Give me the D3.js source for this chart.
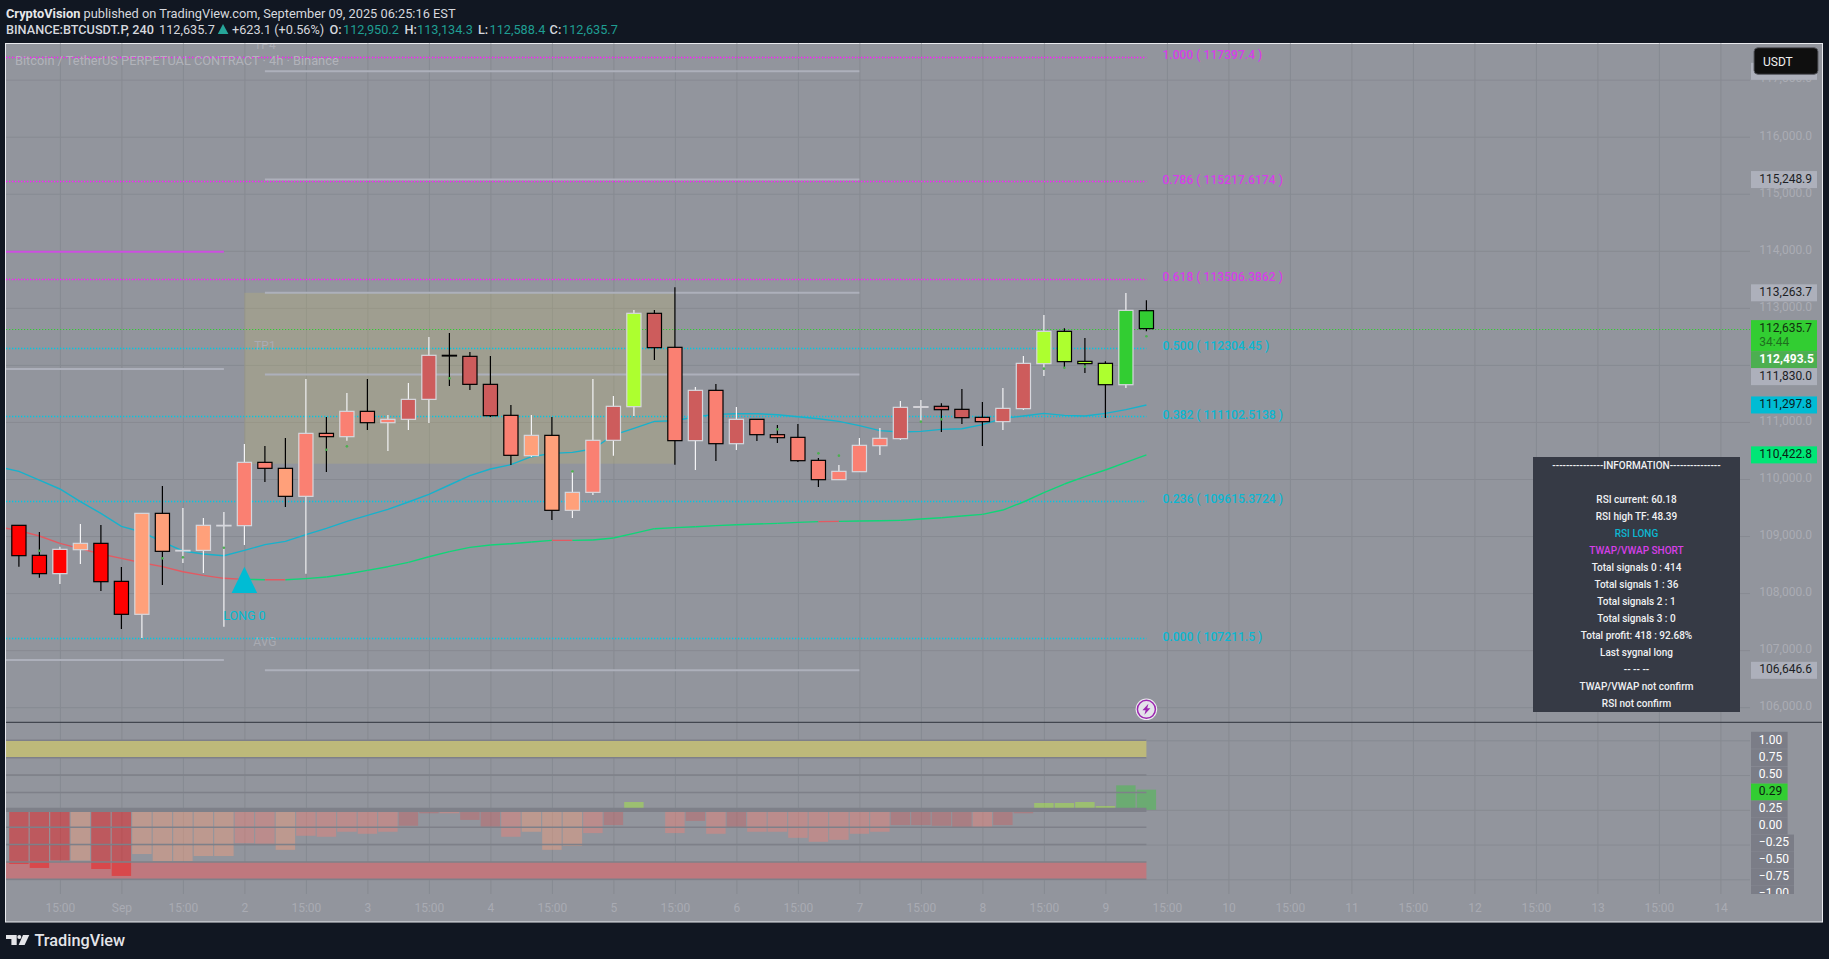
<!DOCTYPE html>
<html>
<head>
<meta charset="utf-8">
<script src="https://cdn.jsdelivr.net/npm/d3@7"></script>
<style>
  html, body { margin: 0; padding: 0; background: #111722; overflow: hidden; }
  svg { display: block; }
  text { font-family: Roboto, sans-serif; }
  .domain { display: none; }
</style>
</head>
<body>
<div id="chart"></div>
<script>
// bars, index 0 = Sep 1 00:00 candle, one bar is 4h
const firstBar = -5
const opens = [109188,108662,108341,108761,108872,108206,107628,109398,108749,108749,109188,109182,110292,110187,109696,110800,110742,111186,110987,111046,111396,112168,112150,111659,111116,110409,110765,109451,109766,110678,111268,112904,112308,110672,111554,110619,111046,110777,110730,110327,109988,110128,110584,110707,111256,111274,111221,111081,111005,111233,112022,112588,112062,112027,111653,112950.2]
const highs = [109188,109071,108814,109211,109194,108457,109398,109877,109492,109316,109422,110613,110578,110719,111753,111087,111507,111753,111122,111683,112489,112559,112226,112156,111297,111122,111087,110158,111753,111455,112962,112962,113360,111612,111665,111262,111046,110946,110964,110368,110245,110719,110894,111367,111385,111326,111577,111349,111595,112156,112875,112641,112471,112062,113260,113134.3]
const lows = [108463,108270,108159,108510,108037,107370,107213,108142,108527,108352,107411,108843,109947,109509,108341,110123,110672,110859,110491,110859,110981,111630,111560,111087,110245,110385,109281,109316,109719,110409,111104,112086,110251,110158,110315,110508,110666,110631,110298,109859,109988,110128,110420,110683,110993,110824,110964,110578,110859,111209,111805,111940,111858,111069,111595,112588.4]
const closes = [108656,108341,108767,108872,108200,107628,109398,108732,108749,109188,109188,110292,110187,109696,110800,110742,111186,110987,111046,111396,112168,112156,111659,111110,110415,110765,109451,109766,110678,111274,112904,112302,110672,111554,110619,111046,110777,110724,110321,109988,110134,110590,110713,111256,111268,111215,111075,111005,111238,112027,112588,112057,112022,111653,112956,112635.7]
const barColors = ['red','red','red','lightsalmon','red','red','lightsalmon','lightsalmon','lightsalmon','lightsalmon','lightsalmon','salmon','salmon','lightsalmon','salmon','salmon','salmon','salmon','salmon','indianred','indianred','salmon','indianred','indianred','salmon','lightsalmon','lightsalmon','lightsalmon','salmon','indianred','greenyellow','indianred','salmon','indianred','salmon','indianred','salmon','salmon','salmon','salmon','salmon','salmon','salmon','indianred','indianred','indianred','indianred','salmon','indianred','indianred','greenyellow','greenyellow','greenyellow','greenyellow','limegreen','limegreen']

// moving averages start one bar earlier than the candles (off the left edge)
const fastMa = [110216,110134,109982,109825,109603,109398,109170,109071,108896,108738,108685,108656,108749,108849,108907,109024,109135,109258,109363,109468,109597,109731,109895,110058,110175,110251,110391,110450,110467,110526,110771,110888,111011,111022,111092,111133,111145,111145,111127,111092,111057,111011,110935,110847,110824,110835,110870,110882,110952,111063,111104,111151,111116,111104,111151,111215,111297.8]
const slowMa = [109164,109094,109001,108872,108779,108685,108609,108533,108463,108375,108311,108259,108241,108235,108235,108253,108282,108335,108399,108463,108539,108638,108726,108802,108843,108866,108896,108925,108925,108931,108966,109047,109129,109147,109164,109182,109199,109211,109223,109240,109252,109258,109263,109269,109275,109299,109322,109351,109380,109456,109597,109760,109912,110041,110158,110292,110422.8]
// bars where the slow average goes red (segment from that bar to the next)
const slowRedBars = [-6,-5,-4,-3,-2,-1,0,1,2,3,4,5,7,21,34]

const signalBars = [-4,2,3,5,10,11,16,22,32,34,35,39,40,45,46,47,50]
const signalPrices = [108743,108609,108627,108796,110514,110572,111764,110134,110870,110450,110409,111005,111046,111934,111951,111969,112501]

const fibLevels = ['1.000','0.786','0.618','0.500','0.382','0.236','0.000']
const fibPrices = [117397.4,115217.6174,113506.3862,112304.45,111102.5138,109615.3724,107211.5]
const fibColors = ['#d63fe8','#d63fe8','#d63fe8','#0cb7d2','#0cb7d2','#0cb7d2','#0cb7d2']

const leftLevels = [111928,106828]
const rightLevels = [117146,115248.9,113263.7,111830,106646.6]

const priceTicks = [117000,116000,115000,114000,113000,112000,111000,110000,109000,108000,107000,106000]
const tagPrices = [117146,115248.9,113263.7,112635.7,112493.5,111830,111297.8,110422.8,106646.6]
const tagFills = ['#adb0bb','#adb0bb','#adb0bb','#32cd32','#4caf50','#adb0bb','#00bcd4','#00e676','#adb0bb']
const tagInk = ['#1c1e24','#1c1e24','#1c1e24','#11300f','#ffffff','#1c1e24','#0b1a20','#0b2014','#1c1e24']

const timeLabels = ['15:00','Sep','15:00','2','15:00','3','15:00','4','15:00','5','15:00','6','15:00','7','15:00','8','15:00','9','15:00','10','15:00','11','15:00','12','15:00','13','15:00','14']

// oscillator pane
const histValues = [-0.78,-0.837,-0.73,-0.73,-0.852,-0.952,-0.636,-0.737,-0.737,-0.665,-0.665,-0.482,-0.49,-0.576,-0.374,-0.388,-0.316,-0.345,-0.316,-0.23,-0.05,-0.05,-0.145,-0.245,-0.388,-0.316,-0.576,-0.518,-0.335,-0.22,0.112,0,-0.335,-0.16,-0.345,-0.25,-0.316,-0.316,-0.403,-0.46,-0.432,-0.345,-0.316,-0.22,-0.22,-0.23,-0.25,-0.25,-0.22,-0.05,0.098,0.098,0.112,0.055,0.352,0.29]
const oscLevels = [1,0.75,0.5,0.25,-0.25,-0.5,-0.75,-1]
const oscGrid = [1,0.5,0,-0.5,-1]
const oscLabels = [1,0.75,0.5,0.29,0.25,0,-0.25,-0.5,-0.75,-1]

const infoRows = ['---------------INFORMATION---------------','','RSI current: 60.18','RSI high TF: 48.39','RSI LONG','TWAP/VWAP SHORT','Total signals 0 : 414','Total signals 1 : 36','Total signals 2 : 1','Total signals 3 : 0','Total profit: 418 : 92.68%','Last sygnal long','-- -- --','TWAP/VWAP not confirm','RSI not confirm']

const W = 1829, H = 959
const frameLeft = 6, frameRight = 1822.5, frameTop = 43.5, frameBottom = 922
const plotRight = 1750, paneSplit = 722.3, plotBottom = 894

const x = d3.scaleLinear().domain([0, 78]).range([121.4, 1720.4])
const y = d3.scaleLinear().domain([116000, 106000]).range([136.7, 707.2])
const yo = d3.scaleLinear().domain([1, -1]).range([740.3, 879.3])

const bars = opens.map((o, i) => ({
  k: firstBar + i, o, h: highs[i], l: lows[i], c: closes[i], fill: barColors[i], hist: histValues[i]
}))

const svg = d3.select('#chart').append('svg').attr('width', W).attr('height', H)
svg.append('rect').attr('width', W).attr('height', H).attr('fill', '#111722')
svg.append('rect').attr('x', frameLeft - 0.5).attr('y', frameTop).attr('width', frameRight - frameLeft + 0.5).attr('height', frameBottom - frameTop)
  .attr('fill', '#92959d').attr('stroke', '#e9eaee').attr('stroke-width', 1)

const defs = svg.append('defs')
defs.append('clipPath').attr('id', 'main').append('rect')
  .attr('x', frameLeft).attr('y', frameTop + 0.5).attr('width', plotRight - frameLeft).attr('height', paneSplit - frameTop - 0.5)
defs.append('clipPath').attr('id', 'pane').append('rect')
  .attr('x', frameLeft).attr('y', paneSplit).attr('width', plotRight - frameLeft).attr('height', plotBottom - paneSplit)
defs.append('clipPath').attr('id', 'oscAxis').append('rect')
  .attr('x', plotRight).attr('y', paneSplit).attr('width', 60).attr('height', plotBottom - paneSplit)

function label(g, str, px, py, color, size, anchor, weight) {
  return g.append('text').attr('x', px).attr('y', py).attr('fill', color)
    .attr('font-size', size).attr('text-anchor', anchor || 'start')
    .attr('font-weight', weight || 400).attr('dominant-baseline', 'central').text(str)
}
// snap a dotted line to the pixel grid so the dots stay sharp
const snap = v => Math.round(v) + 0.5

// ---- grid, through the d3 axes
const gridColor = '#878a92'
const vTicks = timeLabels.map((d, i) => -3 + 3 * i)

const vGrid = svg.append('g').attr('transform', `translate(0,${plotBottom})`)
  .call(d3.axisBottom(x).tickValues(vTicks).tickSize(-(plotBottom - frameTop)).tickFormat(''))
vGrid.selectAll('line').attr('stroke', gridColor).attr('stroke-width', 1)

const hGrid = svg.append('g').attr('transform', `translate(${plotRight},0)`)
  .call(d3.axisLeft(y).tickValues(priceTicks).tickSize(plotRight - frameLeft).tickFormat(''))
hGrid.selectAll('line').attr('stroke', gridColor).attr('stroke-width', 1)

const oGrid = svg.append('g').attr('transform', `translate(${plotRight},0)`)
  .call(d3.axisLeft(yo).tickValues(oscGrid).tickSize(plotRight - frameLeft).tickFormat(''))
oGrid.selectAll('line').attr('stroke', gridColor).attr('stroke-width', 1)

// ---- main pane
const main = svg.append('g').attr('clip-path', 'url(#main)')

// entry box
main.append('rect').attr('x', x(6)).attr('width', x(27) - x(6))
  .attr('y', y(113263.7)).attr('height', y(110268) - y(113263.7))
  .attr('fill', 'rgba(198,189,109,0.25)')

// left and right level lines
main.selectAll('.left-level').data(leftLevels).join('line').attr('class', 'left-level')
  .attr('x1', frameLeft).attr('x2', x(5)).attr('y1', y).attr('y2', y)
  .attr('stroke', '#adb0bb').attr('stroke-width', 2)
main.append('line').attr('x1', frameLeft).attr('x2', x(5)).attr('y1', y(113984)).attr('y2', y(113984))
  .attr('stroke', '#cc4fe0').attr('stroke-width', 2)
main.selectAll('.right-level').data(rightLevels).join('line').attr('class', 'right-level')
  .attr('x1', x(7)).attr('x2', x(36)).attr('y1', y).attr('y2', y)
  .attr('stroke', '#adb0bb').attr('stroke-width', 2)

label(main, 'TP4', x(7), 44.5, '#a9abb3', 12, 'middle')
label(main, 'TP1', x(7), 345.5, '#a9abb3', 12, 'middle')
label(main, 'AVG', x(7), 641.5, '#a9abb3', 12, 'middle')

// fib dotted lines
main.selectAll('.fib').data(fibPrices).join('line').attr('class', 'fib')
  .attr('x1', frameLeft).attr('x2', x(50)).attr('y1', d => snap(y(d))).attr('y2', d => snap(y(d)))
  .attr('stroke', (d, i) => i < 3 ? '#ff18ff' : '#00c8e4').attr('stroke-width', 1.3)
  .attr('stroke-dasharray', '1.3 1.7')
// last price line
main.append('line').attr('x1', frameLeft).attr('x2', plotRight).attr('y1', snap(y(112635.7))).attr('y2', snap(y(112635.7)))
  .attr('stroke', '#30cc30').attr('stroke-width', 1.2)
  .attr('stroke-dasharray', '1.2 1.8')

// watermark, above the dotted line as in the source
label(main, 'Bitcoin / TetherUS PERPETUAL CONTRACT · 4h · Binance', 15, 60.5, '#b1b3ba', 12.8)

fibLevels.forEach((lvl, i) => {
  label(main, `${lvl} ( ${fibPrices[i]} )`, 1162.5, y(fibPrices[i]) - 1.5, fibColors[i], 12.1, 'start', 500)
})

// moving averages
const maLine = d3.line().x((d, i) => x(firstBar - 1 + i)).y(d => y(d))
main.append('path').attr('d', maLine(fastMa)).attr('fill', 'none')
  .attr('stroke', '#17b2cc').attr('stroke-width', 1.4)
slowMa.slice(0, -1).forEach((d, i) => {
  const k = firstBar - 1 + i
  main.append('line').attr('x1', x(k)).attr('x2', x(k + 1)).attr('y1', y(d)).attr('y2', y(slowMa[i + 1]))
    .attr('stroke', slowRedBars.includes(k) ? '#e25a62' : '#0fd678').attr('stroke-width', 1.4)
})

// candles
const bodyW = 14.2
const candle = main.selectAll('.candle').data(bars).join('g').attr('class', 'candle')
candle.append('line').attr('x1', d => x(d.k)).attr('x2', d => x(d.k))
  .attr('y1', d => y(d.h)).attr('y2', d => y(d.l))
  .attr('stroke', d => d.c >= d.o ? '#f4f4f6' : '#000').attr('stroke-width', 1.2)
candle.append('rect').attr('x', d => x(d.k) - bodyW / 2).attr('width', bodyW)
  .attr('y', d => y(Math.max(d.o, d.c)))
  .attr('height', d => Math.max(y(Math.min(d.o, d.c)) - y(Math.max(d.o, d.c)), 0.6))
  .attr('fill', d => d.fill)
  .attr('stroke', d => d.c >= d.o ? '#d6d7dd' : '#000').attr('stroke-width', 1.2)

// signal dots
main.selectAll('.signal').data(signalBars).join('circle').attr('class', 'signal')
  .attr('cx', d => x(d)).attr('cy', (d, i) => y(signalPrices[i])).attr('r', 1.3)
  .attr('fill', '#4caf50')

// long marker
const triX = x(6)
main.append('path').attr('d', d3.line()([[triX, 566.7], [triX + 12.8, 593], [triX - 12.8, 593]]) + 'Z').attr('fill', '#00bcd4')
label(main, 'LONG 0', triX, 615, '#00bcd4', 12.5, 'middle')

// ---- price scale
const priceAxis = svg.append('g').attr('transform', `translate(${plotRight + 9.3},-1.5)`)
  .call(d3.axisRight(y).tickValues(priceTicks).tickSize(0).tickPadding(0).tickFormat(d3.format(',.1f')))
priceAxis.selectAll('text').attr('fill', '#aaacb4').attr('font-size', 12).attr('font-family', 'Roboto, sans-serif')
// 112,000.0 sits completely under the stacked tags
priceAxis.selectAll('.tick').filter(d => d === 112000).remove()

// stacked tags: a tag is pushed down when the one above would overlap it
let tagBottom = 0
tagPrices.forEach((p, i) => {
  const h = i === 3 ? 31 : 17
  const t = Math.max(y(p) - 8.5, tagBottom)
  tagBottom = t + h
  svg.append('rect').attr('x', 1751).attr('y', t).attr('width', 66).attr('height', h).attr('fill', tagFills[i])
  // the first tag's number is hidden by the currency button
  if (i > 0) label(svg, d3.format(',.1f')(p), 1759.3, t + 7.5, tagInk[i], 12, 'start', i === 4 ? 700 : 400)
  if (i === 3) label(svg, '34:44', 1759.3, t + 22, '#1f6f1f', 12)
})

// currency button
svg.append('rect').attr('x', 1754).attr('y', 47.7).attr('width', 64).attr('height', 26.6).attr('rx', 4)
  .attr('fill', '#0f0f0f').attr('stroke', '#5a5c63').attr('stroke-width', 1)
label(svg, 'USDT', 1763, 61.5, '#f0f0f0', 12)

// ---- info table
const infoTop = 457, rowH = 17
svg.append('rect').attr('x', 1533).attr('y', infoTop).attr('width', 207).attr('height', 255).attr('fill', '#363a45')
infoRows.forEach((row, i) => {
  const color = row === 'RSI LONG' ? '#0cb7d2' : row === 'TWAP/VWAP SHORT' ? '#d63fe8' : '#f0f1f3'
  label(svg, row, 1636.5, infoTop + 8.7 + i * rowH, color, 10, 'middle', 500)
})

// flash icon on the last bar
const iconX = x(50), iconY = 709.3
svg.append('circle').attr('cx', iconX).attr('cy', iconY).attr('r', 10.8).attr('fill', '#eceaf0')
svg.append('circle').attr('cx', iconX).attr('cy', iconY).attr('r', 9).attr('fill', '#e4e2ea')
  .attr('stroke', '#9c27b0').attr('stroke-width', 1.5)
svg.append('path').attr('transform', `translate(${iconX},${iconY})`)
  .attr('d', 'M2,-5.5 L-4,1 L-0.8,1 L-2,5.5 L4,-1 L0.8,-1 Z').attr('fill', '#9c27b0')

// ---- oscillator pane
const pane = svg.append('g').attr('clip-path', 'url(#pane)')
pane.append('rect').attr('x', frameLeft).attr('width', x(50) - frameLeft).attr('y', yo(1)).attr('height', yo(0.75) - yo(1)).attr('fill', '#bdb97a')
pane.append('rect').attr('x', frameLeft).attr('width', x(50) - frameLeft).attr('y', yo(-0.75)).attr('height', yo(-1) - yo(-0.75)).attr('fill', '#bf787e')

pane.selectAll('.hist').data(bars).join('rect').attr('class', 'hist')
  .attr('x', d => x(d.k) - 9.7).attr('width', 19.4)
  .attr('y', d => d.hist >= 0 ? yo(d.hist) : yo(0))
  .attr('height', d => Math.abs(yo(d.hist) - yo(0)))
  .attr('fill', d => d.fill).attr('fill-opacity', 0.4)

pane.selectAll('.osc-level').data(oscLevels).join('line').attr('class', 'osc-level')
  .attr('x1', frameLeft).attr('x2', x(50)).attr('y1', yo).attr('y2', yo)
  .attr('stroke', '#7e8089').attr('stroke-width', 1.6)
pane.append('line').attr('x1', frameLeft).attr('x2', x(50)).attr('y1', yo(0)).attr('y2', yo(0))
  .attr('stroke', '#7e8089').attr('stroke-width', 4.2)

// oscillator scale, same stacking as the price tags
const oscAxis = svg.append('g').attr('clip-path', 'url(#oscAxis)')
let oscBottom = 0
const fmtOsc = v => (v < 0 ? '−' : '') + d3.format('.2f')(Math.abs(v))
oscLabels.forEach(v => {
  const t = Math.max(yo(v) - 8.5, oscBottom)
  oscBottom = t + 17
  const isCurrent = v === 0.29
  oscAxis.append('rect').attr('x', 1751).attr('y', t).attr('width', v < 0 ? 43 : 36.6).attr('height', 17)
    .attr('fill', isCurrent ? '#32cd32' : '#7b7d87')
  label(oscAxis, fmtOsc(v), 1758.8, t + 7.7, isCurrent ? '#0b2010' : '#ffffff', 12)
})

// pane separator
svg.append('line').attr('x1', frameLeft).attr('x2', frameRight - 0.5).attr('y1', paneSplit).attr('y2', paneSplit)
  .attr('stroke', '#2f323c').attr('stroke-width', 1)

// ---- time axis
const timeAxis = svg.append('g').attr('transform', `translate(0,900)`)
  .call(d3.axisBottom(x).tickValues(vTicks).tickSize(0).tickPadding(3).tickFormat((d, i) => timeLabels[i]))
timeAxis.selectAll('text').attr('fill', '#a9abb3').attr('font-size', 12).attr('font-family', 'Roboto, sans-serif')

// ---- header
const head = svg.append('g')
const h1 = head.append('text').attr('x', 6).attr('y', 12.7).attr('dominant-baseline', 'central')
  .attr('font-size', 12.8).attr('fill', '#d6d8de')
h1.append('tspan').attr('font-weight', 700).attr('fill', '#e6e7ea').text('CryptoVision')
h1.append('tspan').text(' published on TradingView.com, September 09, 2025 06:25:16 EST')

const teal = '#1f9e92', ink = '#d6d8de'
const y2 = 29.2
label(head, 'BINANCE:BTCUSDT.P, 240', 6, y2, ink, 12.7, 'start', 500)
label(head, '112,635.7', 159, y2, ink, 12.7)
head.append('path').attr('d', d3.line()([[223, 24], [228.4, 34], [217.8, 34]]) + 'Z').attr('fill', '#26a69a')
label(head, '+623.1 (+0.56%)', 232, y2, ink, 12.7)
const ohlc = [['O:', '112,950.2', 329.4, 343], ['H:', '113,134.3', 404.5, 417], ['L:', '112,588.4', 478, 489.5], ['C:', '112,635.7', 549.6, 562]]
ohlc.forEach(d => {
  label(head, d[0], d[2], y2, ink, 12.7, 'start', 500)
  label(head, d[1], d[3], y2, teal, 12.7)
})

// ---- logo
const logo = svg.append('g').attr('fill', '#e4e5e9')
logo.append('path').attr('d', 'M6,935 H16.7 V945 H11.4 V939 H6 Z')
logo.append('circle').attr('cx', 19.3).attr('cy', 937).attr('r', 2)
logo.append('path').attr('d', 'M23,935 H29.3 L24.6,945 H18.6 Z')
label(logo, 'TradingView', 34.5, 940.5, '#e4e5e9', 16.3, 'start', 500).attr('font-family', 'Inter, sans-serif')
</script>
</body>
</html>
